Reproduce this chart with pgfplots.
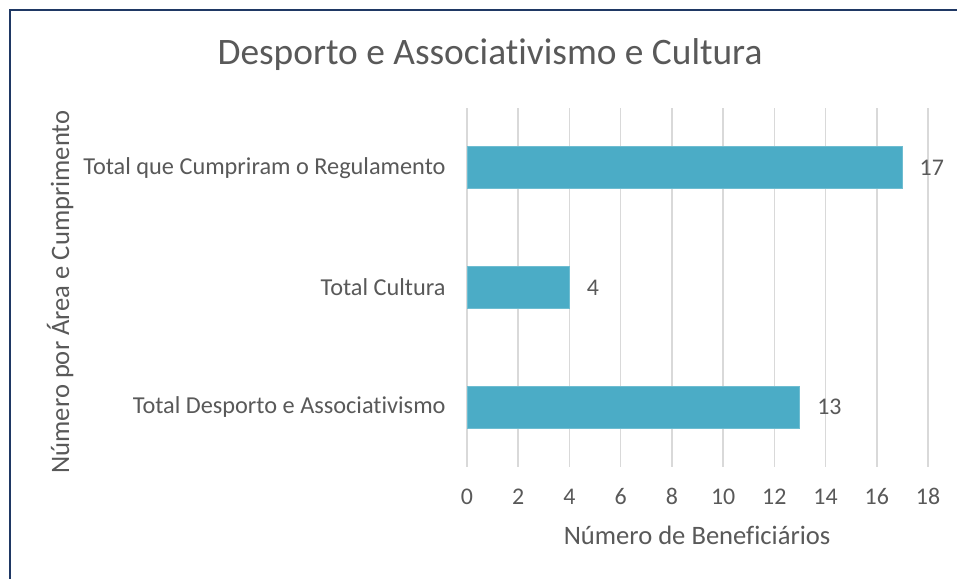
\documentclass[border=0pt]{standalone}
\usepackage{fontspec}
\setmainfont{Carlito}[Ligatures=NoCommon]
\usepackage{pgfplots}
\pgfplotsset{compat=1.18}
\definecolor{barc}{RGB}{75,172,198}
\definecolor{txt}{RGB}{89,89,89}
\definecolor{gridc}{RGB}{217,217,217}
\definecolor{framec}{RGB}{31,56,100}
\begin{document}
\begin{tikzpicture}[x=1bp,y=1bp]
\useasboundingbox (0,0) rectangle (957,579);
\fill[white] (0,0) rectangle (957,579);
\draw[framec, line width=2.5bp] (10,0) -- (10,569) -- (957,569);
\node[txt, font=\fontsize{37.5}{44}\selectfont, anchor=base] at (490,514) {Desporto e Associativismo e Cultura};
\begin{axis}[
  at={(467bp,112bp)}, anchor=south west,
  width=461bp, height=359bp, scale only axis,
  xbar, xmin=0, xmax=18, ymin=-0.5, ymax=2.5,
  xtick={0,2,...,18}, ytick={0,1,2},
  yticklabels={Total Desporto e Associativismo, Total Cultura, Total que Cumpriram o Regulamento},
  axis line style={draw=none}, tick style={draw=none},
  xmajorgrids, major grid style={gridc, line width=1.5bp},
  bar width=42bp,
  /pgf/number format/assume math mode=true,
  ticklabel style={txt, font=\fontsize{24}{29}\selectfont},
  xticklabel style={anchor=base, yshift=-38bp},
  yticklabel style={xshift=-13.7bp, font=\fontsize{24.4}{29}\selectfont},
  xlabel={Número de Beneficiários},
  ylabel={Número por Área e Cumprimento},
  label style={txt, font=\fontsize{26.7}{32}\selectfont},
  xlabel style={at={(axis description cs:0.499,-0.217)}, anchor=base},
  ylabel style={at={(axis description cs:-0.8633,0.4875)}, anchor=base},
  nodes near coords,
  nodes near coords style={txt, font=\fontsize{24}{29}\selectfont, xshift=13.5bp},
  clip=false,
]
\addplot[fill=barc, draw=barc!80!white, line width=1bp] coordinates {(13,0) (4,1) (17,2)};
\end{axis}
\end{tikzpicture}
\end{document}
